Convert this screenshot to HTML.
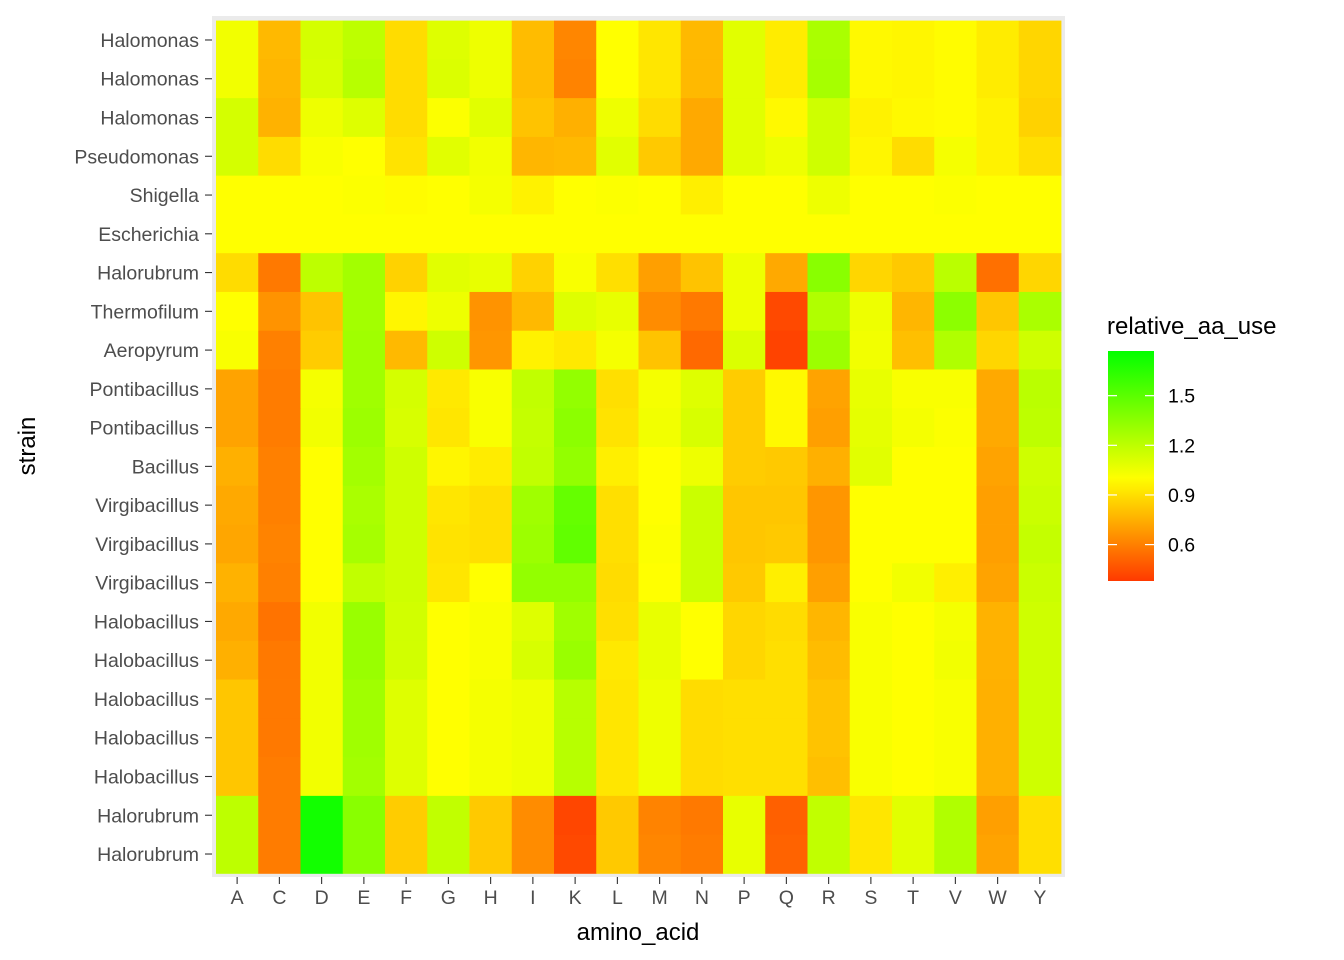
<!DOCTYPE html>
<html><head><meta charset="utf-8"><style>
html,body{margin:0;padding:0;background:#fff;}
svg{display:block;font-family:"Liberation Sans",Arial,sans-serif;}
</style></head><body>
<svg id="chart" width="1344" height="960" viewBox="0 0 1344 960">
<rect x="212" y="16" width="853" height="861" fill="#EBEBEB"/>
<g id="tiles"></g>
<g id="yaxis"></g>
<g id="xaxis"></g>
<text x="638" y="940" text-anchor="middle" font-size="24" fill="#000">amino_acid</text>
<text transform="translate(35,446) rotate(-90)" text-anchor="middle" font-size="24" fill="#000">strain</text>
<g id="legend">
<text x="1107" y="334" font-size="24" fill="#000">relative_aa_use</text>
<defs><linearGradient id="lg" x1="0" y1="1" x2="0" y2="0"></linearGradient></defs>
<rect id="lgbar" x="1108" y="351" width="46" height="230" fill="url(#lg)"/>
</g>
</svg>
<script>
const aminoAcids = ["A","C","D","E","F","G","H","I","K","L","M","N","P","Q","R","S","T","V","W","Y"];
const strains = ["Halomonas","Halomonas","Halomonas","Pseudomonas","Shigella","Escherichia","Halorubrum","Thermofilum","Aeropyrum","Pontibacillus","Pontibacillus","Bacillus","Virgibacillus","Virgibacillus","Virgibacillus","Halobacillus","Halobacillus","Halobacillus","Halobacillus","Halobacillus","Halorubrum","Halorubrum"];
const values = [
[1.04,0.78,1.13,1.20,0.89,1.10,1.05,0.79,0.62,1.00,0.92,0.78,1.09,0.94,1.26,0.98,0.97,0.99,0.94,0.87],
[1.04,0.77,1.12,1.22,0.89,1.11,1.05,0.79,0.61,1.00,0.92,0.78,1.09,0.94,1.27,0.98,0.97,0.99,0.94,0.87],
[1.13,0.76,1.05,1.10,0.89,1.01,1.09,0.81,0.75,1.05,0.89,0.73,1.09,0.98,1.15,0.96,0.98,0.99,0.96,0.86],
[1.13,0.89,1.02,1.00,0.91,1.09,1.04,0.77,0.78,1.09,0.83,0.73,1.09,1.05,1.15,0.97,0.89,1.03,0.96,0.90],
[1.00,1.00,1.00,1.01,0.99,1.00,1.03,0.96,1.00,1.01,1.00,0.95,1.00,1.00,1.05,1.00,1.00,1.01,1.00,1.00],
[1.00,1.00,1.00,1.00,1.00,1.00,1.00,1.00,1.00,1.00,1.00,1.00,1.00,1.00,1.00,1.00,1.00,1.00,1.00,1.00],
[0.89,0.58,1.20,1.28,0.86,1.09,1.07,0.86,1.02,0.90,0.70,0.81,1.05,0.73,1.36,0.87,0.83,1.21,0.55,0.87],
[1.00,0.66,0.81,1.28,0.97,1.05,0.66,0.78,1.10,1.07,0.64,0.58,1.05,0.43,1.24,1.05,0.77,1.35,0.82,1.26],
[1.02,0.60,0.84,1.29,0.78,1.15,0.67,0.96,0.93,1.03,0.81,0.53,1.11,0.41,1.30,1.04,0.80,1.24,0.87,1.15],
[0.71,0.59,1.03,1.29,1.13,0.93,1.02,1.19,1.33,0.90,1.03,1.10,0.84,0.98,0.71,1.07,1.02,1.02,0.73,1.21],
[0.71,0.59,1.04,1.30,1.12,0.92,1.02,1.18,1.35,0.91,1.04,1.12,0.84,0.98,0.70,1.08,1.03,1.01,0.73,1.20],
[0.75,0.60,1.00,1.28,1.15,0.97,0.94,1.19,1.33,0.95,1.00,1.05,0.84,0.83,0.75,1.09,1.00,1.00,0.71,1.15],
[0.73,0.60,1.00,1.26,1.15,0.92,0.90,1.29,1.47,0.90,1.00,1.16,0.82,0.82,0.67,1.00,1.00,1.00,0.70,1.16],
[0.72,0.61,1.00,1.27,1.15,0.91,0.90,1.30,1.48,0.90,1.01,1.16,0.82,0.83,0.67,1.00,1.00,1.00,0.70,1.18],
[0.76,0.60,1.00,1.19,1.15,0.92,1.00,1.33,1.33,0.89,1.00,1.16,0.83,0.95,0.70,1.00,1.04,0.95,0.71,1.16],
[0.73,0.56,1.04,1.31,1.14,1.00,1.02,1.10,1.29,0.90,1.07,1.00,0.87,0.89,0.77,1.02,1.00,1.03,0.76,1.15],
[0.75,0.58,1.04,1.31,1.14,1.00,1.02,1.12,1.31,0.93,1.07,1.00,0.87,0.90,0.79,1.02,1.00,1.04,0.76,1.15],
[0.82,0.58,1.04,1.29,1.10,1.00,1.03,1.05,1.22,0.92,1.05,0.89,0.90,0.90,0.81,1.02,1.00,1.02,0.75,1.15],
[0.82,0.58,1.04,1.29,1.10,1.00,1.03,1.05,1.22,0.92,1.05,0.89,0.90,0.90,0.81,1.02,1.00,1.02,0.75,1.15],
[0.82,0.59,1.04,1.28,1.10,1.00,1.03,1.05,1.22,0.92,1.05,0.89,0.90,0.90,0.80,1.02,1.00,1.02,0.75,1.15],
[1.20,0.59,1.72,1.36,0.84,1.19,0.83,0.64,0.42,0.83,0.61,0.58,1.07,0.50,1.19,0.92,1.09,1.24,0.70,0.90],
[1.20,0.59,1.72,1.36,0.84,1.19,0.83,0.64,0.43,0.83,0.62,0.59,1.07,0.51,1.19,0.92,1.09,1.24,0.71,0.90]
];
const legendTicks = [0.6, 0.9, 1.2, 1.5];
const legendMin = 0.38, legendMax = 1.77;

const NS = "http://www.w3.org/2000/svg";
const x0 = 216, x1 = 1061, y0 = 20.6, y1 = 873.4;
const bw = (x1 - x0) / aminoAcids.length;
const bh = (y1 - y0) / strains.length;
function xScale(i){ return x0 + i * bw; }
function yScale(i){ return y0 + i * bh; }
function color(v){
  let h = v <= 1 ? 15 + (v - 0.4) / 0.6 * 45 : 60 + (v - 1) / 0.75 * 58;
  h = Math.max(12, Math.min(120, h));
  return "hsl(" + h.toFixed(1) + ",100%,50%)";
}
function mk(tag, attrs, parent){
  const e = document.createElementNS(NS, tag);
  for (const k in attrs) e.setAttribute(k, attrs[k]);
  parent.appendChild(e); return e;
}
const tiles = document.getElementById("tiles");
values.forEach((row, r) => row.forEach((v, c) => {
  const t = mk("rect", {x: xScale(c).toFixed(2), y: yScale(r).toFixed(2), width: (bw + 0.4).toFixed(2), height: (bh + 0.4).toFixed(2), fill: color(v)}, tiles);
  
  
}));
const ya = document.getElementById("yaxis");
strains.forEach((s, i) => {
  const cy = yScale(i) + bh / 2;
  const tk = mk("line", {x1: 205, x2: 212, y1: cy, y2: cy, stroke: "#333", "stroke-width": 1.1}, ya);
  
  
  const tx = mk("text", {x: 199, y: cy + 7, "text-anchor": "end", "font-size": 19.5, fill: "#4D4D4D"}, ya);
  tx.textContent = s;
  
  
});
const xa = document.getElementById("xaxis");
aminoAcids.forEach((a, i) => {
  const cx = xScale(i) + bw / 2;
  const tk = mk("line", {x1: cx, x2: cx, y1: 877, y2: 884, stroke: "#333", "stroke-width": 1.1}, xa);
  
  
  const tx = mk("text", {x: cx, y: 904, "text-anchor": "middle", "font-size": 19.5, fill: "#4D4D4D"}, xa);
  tx.textContent = a;
  
  
});
const lg = document.getElementById("lg");
for (let k = 0; k <= 20; k++){
  const v = legendMin + (legendMax - legendMin) * k / 20;
  mk("stop", {offset: (k * 5) + "%", "stop-color": color(v)}, lg);
}
const leg = document.getElementById("legend");
const lgTop = 351, lgH = 230;
legendTicks.forEach(t => {
  const y = lgTop + lgH * (1 - (t - legendMin) / (legendMax - legendMin));
  mk("line", {x1: 1108, x2: 1117, y1: y, y2: y, stroke: "#fff", "stroke-width": 1.2}, leg);
  mk("line", {x1: 1145, x2: 1154, y1: y, y2: y, stroke: "#fff", "stroke-width": 1.2}, leg);
  const tx = mk("text", {x: 1168, y: y + 7, "font-size": 19.5, fill: "#000"}, leg);
  tx.textContent = t.toFixed(1);
  
  
});
</script>
</body></html>
